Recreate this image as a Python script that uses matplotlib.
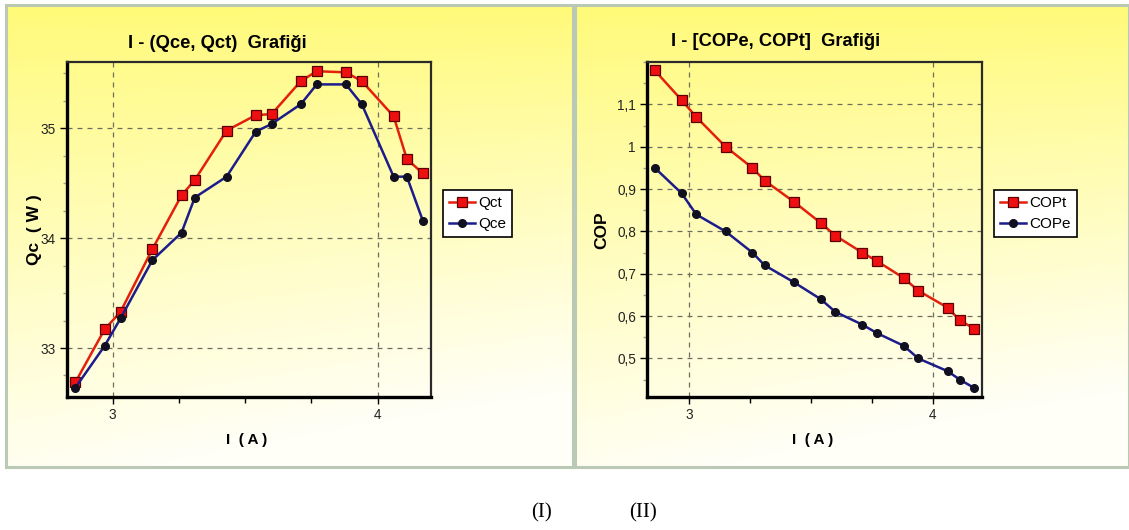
import numpy as np
import matplotlib
matplotlib.use("Agg")
import matplotlib.pyplot as plt
from matplotlib.patches import Rectangle
from matplotlib.ticker import MultipleLocator, FuncFormatter

# ---------------- data ----------------
current = [2.86, 2.97, 3.03, 3.15, 3.26, 3.31, 3.43, 3.54, 3.60, 3.71, 3.77, 3.88, 3.94, 4.06, 4.11, 4.17]
qct = [32.69, 33.17, 33.33, 33.90, 34.39, 34.53, 34.98, 35.12, 35.13, 35.43, 35.52, 35.51, 35.43, 35.11, 34.72, 34.59]
qce = [32.64, 33.02, 33.27, 33.80, 34.05, 34.37, 34.56, 34.97, 35.04, 35.22, 35.40, 35.40, 35.22, 34.56, 34.56, 34.16]
copt = [1.18, 1.11, 1.07, 1.00, 0.95, 0.92, 0.87, 0.82, 0.79, 0.75, 0.73, 0.69, 0.66, 0.62, 0.59, 0.57]
cope = [0.95, 0.89, 0.84, 0.80, 0.75, 0.72, 0.68, 0.64, 0.61, 0.58, 0.56, 0.53, 0.50, 0.47, 0.45, 0.43]

x_ticks = [3, 4]
q_ticks = [33, 34, 35]
cop_ticks = [0.5, 0.6, 0.7, 0.8, 0.9, 1.0, 1.1]

titles = ["I - (Qce, Qct)  Grafiği", "I - [COPe, COPt]  Grafiği"]
xlabel = "I  ( A )"
ylabels = ["Qc  ( W )", "COP"]
captions = ["(I)", "(II)"]

W, H = 1129, 530
fig = plt.figure(figsize=(W / 100, H / 100), dpi=100)
fig.patch.set_facecolor("white")

SANS = ["Liberation Sans", "DejaVu Sans"]
SERIF = ["Liberation Serif", "DejaVu Serif"]

# background panels with yellow gradient
bg = fig.add_axes([0, 0, 1, 1])
bg.set_xlim(0, W)
bg.set_ylim(H, 0)
bg.axis("off")

def gradient(w, h):
    yy, xx = np.mgrid[0:h, 0:w]
    t = yy / (h - 1)
    s = xx / (w - 1)
    f = np.clip(0.9 * t + 0.25 * s * t + 0.03, 0, 1) ** 0.85
    top = np.array([255, 250, 112]) / 255
    bot = np.array([255, 255, 248]) / 255
    return top[None, None, :] * (1 - f[..., None]) + bot[None, None, :] * f[..., None]

panels = [(6, 5, 573, 467), (575, 5, 1129, 467)]
for (x0, y0, x1, y1) in panels:
    bg.imshow(gradient(int(x1 - x0), int(y1 - y0)), extent=(x0, x1, y1, y0),
              aspect="auto", interpolation="bilinear", zorder=0)
    bg.add_patch(Rectangle((x0, y0), x1 - x0, y1 - y0, fill=False,
                           edgecolor="#b9c9b5", linewidth=2.2, zorder=1))

def fig_rect(x0, y0, x1, y1):
    return [x0 / W, 1 - y1 / H, (x1 - x0) / W, (y1 - y0) / H]

ax1 = fig.add_axes(fig_rect(67, 62, 431, 397))
ax2 = fig.add_axes(fig_rect(647, 62, 982, 397))

red = "#e4200c"
navy = "#1c1c8a"

def style(ax, ylim, yticks, yminor, fmt):
    ax.set_facecolor("none")
    ax.set_xlim(2.828, 4.201)
    ax.set_ylim(*ylim)
    ax.set_xticks(x_ticks)
    ax.xaxis.set_minor_locator(MultipleLocator(0.25))
    ax.set_yticks(yticks)
    ax.yaxis.set_minor_locator(MultipleLocator(yminor))
    ax.yaxis.set_major_formatter(FuncFormatter(fmt))
    ax.grid(True, which="major", linestyle=(0, (4, 4)), color="#6e6e5e", linewidth=0.9)
    ax.tick_params(which="major", length=5, width=1, color="black", direction="out", pad=3)
    ax.tick_params(axis="x", which="minor", length=4, width=1, color="black", direction="out")
    ax.tick_params(axis="y", which="minor", length=3, width=1, color="#a0a090", direction="out")
    for lab in ax.get_xticklabels() + ax.get_yticklabels():
        lab.set_family(SANS)
        lab.set_fontsize(9.8)
        lab.set_color("#222222")
    for side in ["left", "bottom"]:
        ax.spines[side].set_linewidth(2.4)
        ax.spines[side].set_color("black")
    for side in ["right", "top"]:
        ax.spines[side].set_linewidth(1.6)
        ax.spines[side].set_color("#2a2a2a")

style(ax1, (32.554, 35.604), q_ticks, 0.25, lambda v, p: f"{v:g}")
style(ax2, (0.409, 1.2), cop_ticks, 0.05, lambda v, p: f"{v:g}".replace(".", ","))

sq = dict(marker="s", markersize=7, markerfacecolor="#ee1010", markeredgecolor="#5a0000",
          markeredgewidth=0.9, color=red, linewidth=1.8)
dot = dict(marker="o", markersize=5.5, markerfacecolor="#101020", markeredgecolor="#101020",
           color=navy, linewidth=1.8)

l1, = ax1.plot(current, qct, label="Qct", **sq)
l2, = ax1.plot(current, qce, label="Qce", **dot)
l3, = ax2.plot(current, copt, label="COPt", **sq)
l4, = ax2.plot(current, cope, label="COPe", **dot)

for ax, handles, (lx, ly) in [(ax1, [l1, l2], (443, 190)), (ax2, [l3, l4], (994, 190))]:
    leg = ax.legend(handles=handles, loc="upper left", bbox_to_anchor=(lx / W, 1 - ly / H),
                    bbox_transform=fig.transFigure, frameon=True, fancybox=False,
                    edgecolor="black", facecolor="white", framealpha=1,
                    borderpad=0.4, handlelength=1.7, handletextpad=0.2,
                    labelspacing=0.45, borderaxespad=0,
                    prop={"family": SANS, "size": 11})
    leg.get_frame().set_linewidth(1.2)

# titles and labels in figure pixel coordinates
def ftext(x, y, s, **kw):
    fig.text(x / W, 1 - y / H, s, **kw)

ftext(217, 43, titles[0], ha="center", va="center", family=SANS, weight="bold", fontsize=13.2)
ftext(776, 41, titles[1], ha="center", va="center", family=SANS, weight="bold", fontsize=13.2)
ftext(247, 440, xlabel, ha="center", va="center", family=SANS, weight="bold", fontsize=11)
ftext(813, 440, xlabel, ha="center", va="center", family=SANS, weight="bold", fontsize=11)
ftext(34, 230, ylabels[0], ha="center", va="center", rotation=90, family=SANS, weight="bold", fontsize=12.5)
ftext(602, 230, ylabels[1], ha="center", va="center", rotation=90, family=SANS, weight="bold", fontsize=12.5)

ftext(542, 513, captions[0], ha="center", va="center", family=SERIF, fontsize=15)
ftext(643, 513, captions[1], ha="center", va="center", family=SERIF, fontsize=15)

fig.savefig("out.png", dpi=100, facecolor="white")
